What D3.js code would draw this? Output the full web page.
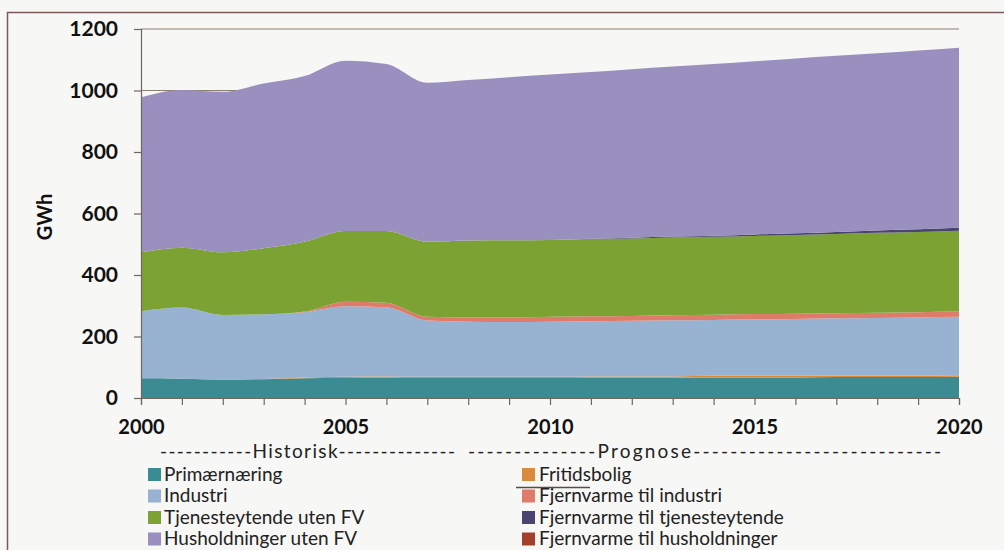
<!DOCTYPE html>
<html>
<head>
<meta charset="utf-8">
<script src="https://cdn.jsdelivr.net/npm/d3@7"></script>
<style>
  html, body { margin: 0; padding: 0; background: #f7f7f5; }
  svg { display: block; }
</style>
</head>
<body>
<svg id="chart" width="1004" height="550"></svg>
<script>
// ---- data (GWh) ----
const years = [2000,2001,2002,2003,2004,2005,2006,2007,2008,2009,2010,2011,2012,2013,2014,2015,2016,2017,2018,2019,2020];
const primaernaering   = [64,63,60,61,64,65,66,65,65,65,65,66,66,66,67,67,67,68,68,68,69];
const fritidsbolig     = [0,0,0,1,3,4,4,4,4,4,4,4,4,4,5,5,5,5,5,5,5];
const industri         = [218,231,210,210,212,229,225,183,179,178,179,180,181,183,182,184,185,186,187,189,190];
const fjvIndustri      = [0,0,0,0,2,15,15,12,14,15,16,16,16,16,17,17,17,17,17,17,17];
const tjenesteytende   = [192,195,204,215,227,230,233,244,250,251,250,251,252,253,253,254,256,257,260,261,263];
const fjvTjeneste      = [0,0,0,0,0,0,0,0,0,0,0,1,2,3,4,5,6,7,8,9,10];
const husholdninger    = [504,513,522,536,539,554,543,517,522,530,538,542,548,553,558,563,568,573,576,581,585];
const fjvHusholdninger = [0,0,0,0,0,0,0,0,0,0,0,0,0,0,0,0,0,0,0,0,0];

const yTicks = [0,200,400,600,800,1000,1200];
const xLabelYears = [2000,2005,2010,2015,2020];

const seriesNames = {
  primaernaering: "Primærnæring",
  fritidsbolig: "Fritidsbolig",
  industri: "Industri",
  fjvIndustri: "Fjernvarme til industri",
  tjenesteytende: "Tjenesteytende uten FV",
  fjvTjeneste: "Fjernvarme til tjenesteytende",
  husholdninger: "Husholdninger uten FV",
  fjvHusholdninger: "Fjernvarme til husholdninger"
};
const seriesValues = {primaernaering, fritidsbolig, industri, fjvIndustri, tjenesteytende, fjvTjeneste, husholdninger, fjvHusholdninger};
const stackOrder = ["primaernaering","fritidsbolig","industri","fjvIndustri","tjenesteytende","fjvTjeneste","husholdninger","fjvHusholdninger"];
const legendLeft = ["primaernaering","industri","tjenesteytende","husholdninger"];
const legendRight = ["fritidsbolig","fjvIndustri","fjvTjeneste","fjvHusholdninger"];
const colors = {
  primaernaering: "#3a8b92",
  fritidsbolig: "#d98a3c",
  industri: "#98b3d1",
  fjvIndustri: "#df7b6a",
  tjenesteytende: "#7ca233",
  fjvTjeneste: "#4a4470",
  husholdninger: "#9a90bf",
  fjvHusholdninger: "#a3402c"
};

const rows = years.map((y, i) => {
  const r = {year: y};
  stackOrder.forEach(k => r[k] = seriesValues[k][i]);
  return r;
});

const svg = d3.select("#chart");
const font = "Lato, 'Open Sans', sans-serif";

// outer frame
svg.append("rect").attr("x", 7.5).attr("y", 12.5).attr("width", 1010).attr("height", 560)
  .attr("fill", "#f7f7f5").attr("stroke", "#7d5a5a").attr("stroke-width", 1.5);

const x = d3.scaleLinear().domain([2000, 2020]).range([141, 959]);
const y = d3.scaleLinear().domain([0, 1200]).range([398, 29]);

// gridlines
svg.append("g").selectAll("line").data(yTicks.filter(t => t > 0)).join("line")
  .attr("x1", x(2000)).attr("x2", x(2020))
  .attr("y1", d => y(d)).attr("y2", d => y(d))
  .attr("stroke", "#8a7f70").attr("stroke-width", 1.2);

// stacked areas
const stack = d3.stack().keys(stackOrder);
const stacked = stack(rows);
const area = d3.area()
  .x(d => x(d.data.year))
  .y0(d => y(d[0]))
  .y1(d => y(d[1]))
  .curve(d3.curveMonotoneX);

svg.append("g").selectAll("path").data(stacked).join("path")
  .attr("d", area)
  .attr("fill", d => colors[d.key]);

// axes
const yAxis = d3.axisLeft(y).tickValues(yTicks).tickSize(7).tickPadding(16).tickFormat(d => String(d));
const gy = svg.append("g").attr("transform", `translate(${x(2000)},0)`).call(yAxis);
gy.select(".domain").attr("stroke", "#6f6660").attr("stroke-width", 1.2);
gy.selectAll(".tick line").attr("stroke", "#6f6660").attr("stroke-width", 1.2);
gy.selectAll(".tick text").attr("font-family", font).attr("font-weight", "bold")
  .attr("font-size", 21).attr("fill", "#111");

const xAxis = d3.axisBottom(x).tickValues(years).tickSize(7).tickPadding(15)
  .tickFormat(d => xLabelYears.includes(d) ? String(d) : "");
const gx = svg.append("g").attr("transform", `translate(0,${y(0)})`).call(xAxis);
gx.select(".domain").attr("stroke", "#6f6660").attr("stroke-width", 1.2);
gx.selectAll(".tick line").attr("stroke", "#6f6660").attr("stroke-width", 1.2);
gx.selectAll(".tick text").attr("font-family", font).attr("font-weight", "bold")
  .attr("font-size", 20).attr("fill", "#111");

// y title
svg.append("text").attr("transform", "translate(52,217) rotate(-90)")
  .attr("text-anchor", "middle").attr("font-family", font).attr("font-weight", "bold")
  .attr("font-size", 20).attr("fill", "#111").text("GWh");

// period labels
svg.append("text").attr("x", 160).attr("y", 458)
  .attr("font-family", font).attr("font-size", 19).attr("fill", "#222")
  .attr("textLength", 295).attr("lengthAdjust", "spacing")
  .text("-----------Historisk--------------");
svg.append("text").attr("x", 468).attr("y", 458)
  .attr("font-family", font).attr("font-size", 19).attr("fill", "#222")
  .attr("textLength", 473).attr("lengthAdjust", "spacing")
  .text("--------------Prognose---------------------------");

// stray line over legend
svg.append("line").attr("x1", 516).attr("x2", 590).attr("y1", 487.5).attr("y2", 487.5)
  .attr("stroke", "#5a4a4a").attr("stroke-width", 1.5);

// legend
const rowY = [474, 495.5, 517, 538.5];
function legendCol(keys, sx, tx) {
  const g = svg.append("g");
  keys.forEach((k, i) => {
    g.append("rect").attr("x", sx).attr("y", rowY[i] - 6).attr("width", 13).attr("height", 13)
      .attr("fill", colors[k]);
    g.append("text").attr("x", tx).attr("y", rowY[i]).attr("dy", "0.35em")
      .attr("font-family", font).attr("font-size", 19).attr("fill", "#222")
      .text(seriesNames[k]);
  });
}
legendCol(legendLeft, 148, 164);
legendCol(legendRight, 522, 539);
</script>
</body>
</html>
